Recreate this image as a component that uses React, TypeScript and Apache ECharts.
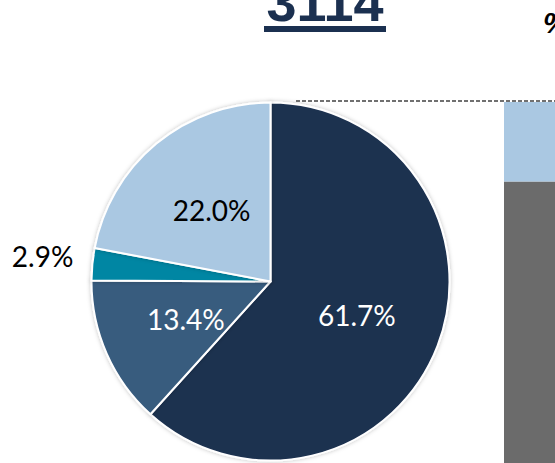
import React, { useEffect, useRef } from "react";
import * as echarts from "echarts";

const sliceNames = ["A", "B", "C", "D"];
const sliceValues = [61.7, 13.4, 2.9, 22.0];
const sliceColors = ["#1b3050", "#375b7e", "#0086a3", "#aac8e2"];
const sliceLabelColors = ["#ffffff", "#ffffff", "#000000", "#000000"];

const barCategories = ["total"];
const barOther = [78.0];
const barHighlight = [22.0];

const titleText = "3114";

export default function App() {
  const ref = useRef<HTMLDivElement>(null);
  useEffect(() => {
    if (!ref.current) return;
    const chart = echarts.init(ref.current, null, { renderer: "svg" });
    const font = "Lato";
    chart.setOption({
      animation: false,
      backgroundColor: "#ffffff",
      grid: { left: 504, top: 102, width: 100, height: 361 },
      xAxis: { type: "category", data: barCategories, show: false },
      yAxis: { type: "value", min: 0, max: 100, show: false },
      series: [
        {
          type: "bar",
          stack: "s",
          data: barOther,
          barWidth: "100%",
          itemStyle: { color: "#6b6b6b" },
          silent: true,
        },
        {
          type: "bar",
          stack: "s",
          data: barHighlight,
          barWidth: "100%",
          itemStyle: { color: "#aac8e2" },
          silent: true,
        },
        {
          type: "pie",
          center: [270.5, 281.5],
          radius: [0, 179],
          startAngle: 90,
          clockwise: true,
          avoidLabelOverlap: false,
          itemStyle: {
            borderColor: "#ffffff",
            borderWidth: 2,
            shadowBlur: 4,
            shadowColor: "rgba(0,0,0,0.25)",
          },
          data: sliceValues.map((v, i) => ({
            name: sliceNames[i],
            value: v,
            itemStyle: { color: sliceColors[i] },
            label:
              i === 2
                ? {
                    position: "outside",
                    color: sliceLabelColors[i],
                    offset: [0, -8],
                  }
                : { position: "inside", color: sliceLabelColors[i] },
            labelLine: { show: false, length: 6, length2: 8 },
          })),
          label: {
            formatter: (p: any) => p.value.toFixed(1) + "%",
            fontFamily: font,
            fontSize: 28,
          },
        },
      ],
      graphic: [
        {
          type: "line",
          shape: { x1: 296, y1: 101, x2: 555, y2: 101 },
          style: { stroke: "#707070", lineWidth: 1.8, lineDash: [4, 2] },
          z: 10,
        },
        {
          type: "text",
          x: 325,
          y: 2,
          style: {
            text: titleText,
            font: "bold 54px 'Liberation Sans'",
            fill: "#1b3050",
            textAlign: "center",
            textVerticalAlign: "middle",
          },
        },
        {
          type: "rect",
          shape: { x: 264, y: 26, width: 122, height: 6 },
          style: { fill: "#1b3050" },
        },
        {
          type: "text",
          x: 543,
          y: 22,
          style: {
            text: "%",
            font: "italic bold 30px 'Liberation Sans'",
            fill: "#000000",
            textAlign: "left",
            textVerticalAlign: "middle",
          },
        },
      ],
    });
    return () => chart.dispose();
  }, []);
  return (
    <div
      ref={ref}
      style={{ position: "fixed", left: 0, top: 0, width: 555, height: 463 }}
    />
  );
}
